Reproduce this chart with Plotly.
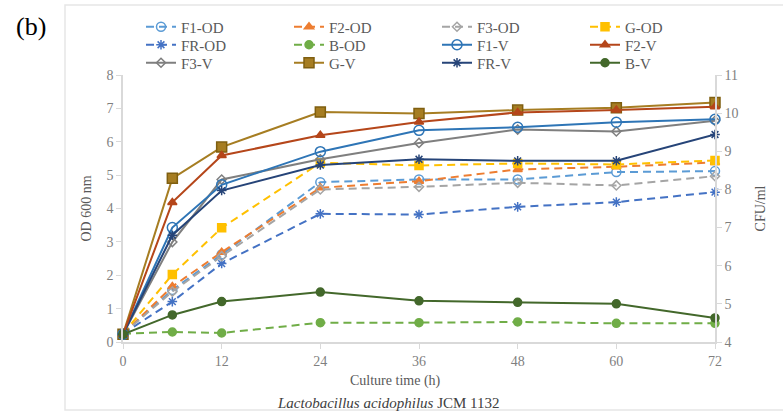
import plotly.graph_objects as go

time_h = [0, 6, 12, 24, 36, 48, 60, 72]

# OD 600 nm (left axis)
f1_od = [0.25, 1.56, 2.62, 4.79, 4.87, 4.87, 5.09, 5.12]
f2_od = [0.25, 1.66, 2.69, 4.62, 4.82, 5.17, 5.25, 5.38]
f3_od = [0.25, 1.51, 2.57, 4.57, 4.65, 4.77, 4.69, 4.97]
g_od = [0.25, 2.02, 3.42, 5.37, 5.29, 5.35, 5.32, 5.44]
fr_od = [0.25, 1.21, 2.35, 3.84, 3.82, 4.05, 4.19, 4.49]
b_od = [0.25, 0.30, 0.27, 0.58, 0.58, 0.60, 0.56, 0.56]

# CFU/ml (right axis)
f1_v = [4.2, 7.00, 8.12, 8.99, 9.55, 9.63, 9.76, 9.84]
f2_v = [4.2, 7.66, 8.89, 9.42, 9.77, 10.02, 10.08, 10.17]
f3_v = [4.2, 6.62, 8.26, 8.79, 9.22, 9.57, 9.52, 9.80]
g_v = [4.2, 8.29, 9.11, 10.03, 9.99, 10.08, 10.14, 10.28]
fr_v = [4.2, 6.80, 7.97, 8.64, 8.79, 8.75, 8.75, 9.44]
b_v = [4.2, 4.71, 5.06, 5.31, 5.08, 5.04, 5.00, 4.63]

x_ticks = [0, 12, 24, 36, 48, 60, 72]

FONT = "Liberation Serif, Times New Roman, serif"
W, H = 783, 414
L, R, T, B = 123, 715, 75, 342
DASH = "8px,5px"


def px(x):
    return (x - L) / (R - L)


def py(y):
    return (B - y) / (B - T)


fig = go.Figure()

# legend grid: (column, row) in pixels
cols = [141, 289, 437, 585]
rows = [27, 45, 63]
legend_cfg = {}


def add(name, y, color, symbol, size, dash, axis, col, row, mline=None):
    idx = len(legend_cfg) + 1
    key = "legend" if idx == 1 else f"legend{idx}"
    legend_cfg[key] = dict(
        x=px(cols[col]), y=py(rows[row]), xanchor="left", yanchor="middle",
        orientation="v", bgcolor="rgba(0,0,0,0)", borderwidth=0,
        font=dict(family=FONT, size=15, color="#595959"),
    )
    fig.add_trace(go.Scatter(
        x=time_h, y=y, name=name, mode="lines+markers",
        line=dict(color=color, width=2, dash=dash),
        marker=dict(symbol=symbol, size=size, color=color,
                    line=dict(color=mline or color, width=1.5)),
        yaxis=axis, legend=key, cliponaxis=False,
    ))


# OD series first so the V lines are drawn on top
add("F1-OD", f1_od, "#5B9BD5", "circle-open", 9, DASH, "y", 0, 0)
add("FR-OD", fr_od, "#4472C4", "asterisk-open", 8, DASH, "y", 0, 1)
add("F2-OD", f2_od, "#ED7D31", "triangle-up", 8, DASH, "y", 1, 0)
add("B-OD", b_od, "#70AD47", "circle", 8, DASH, "y", 1, 1)
add("F3-OD", f3_od, "#A5A5A5", "diamond-open", 7, DASH, "y", 2, 0)
add("G-OD", g_od, "#FFC000", "square", 8, DASH, "y", 3, 0)
add("F3-V", f3_v, "#7F7F7F", "diamond-open", 7, "solid", "y2", 0, 2)
add("G-V", g_v, "#A67D22", "square", 10, "solid", "y2", 1, 2, mline="#7F5F10")
add("F1-V", f1_v, "#2E75B6", "circle-open", 10, "solid", "y2", 2, 1)
add("FR-V", fr_v, "#264478", "asterisk-open", 8, "solid", "y2", 2, 2)
add("F2-V", f2_v, "#B5461A", "triangle-up", 8, "solid", "y2", 3, 1)
add("B-V", b_v, "#43682B", "circle", 8, "solid", "y2", 3, 2)

fig.update_layout(**legend_cfg)

axis_line = "#D9D9D9"
tick_font = dict(family=FONT, size=14, color="#7F7F7F")
title_font = dict(family=FONT, size=14, color="#595959")

fig.update_layout(
    width=W, height=H,
    margin=dict(l=L, r=W - R, t=T, b=H - B, autoexpand=False),
    paper_bgcolor="white", plot_bgcolor="white",
    showlegend=True,
    xaxis=dict(
        range=[0, 72], tickvals=x_ticks, ticktext=[str(v) for v in x_ticks],
        showgrid=False, zeroline=False, showline=True, linecolor=axis_line,
        linewidth=1.5, ticks="outside", ticklen=5, tickcolor=axis_line,
        tickfont=tick_font,
    ),
    yaxis=dict(
        range=[0, 8], dtick=1, showgrid=False, zeroline=False, showline=True,
        linecolor=axis_line, linewidth=1.5, ticks="outside", ticklen=5,
        tickcolor=axis_line, tickfont=tick_font,
        title=dict(text="OD 600 nm", font=title_font, standoff=12),
    ),
    yaxis2=dict(
        range=[4, 11], dtick=1, overlaying="y", side="right", showgrid=False,
        zeroline=False, showline=True, linecolor=axis_line, linewidth=1.5,
        ticks="outside", ticklen=5, tickcolor=axis_line, tickfont=tick_font,
        title=dict(text="CFU/ml", font=title_font, standoff=18),
    ),
)

fig.add_annotation(
    text="Culture time (h)", xref="paper", yref="paper",
    x=px(395), y=py(381), xanchor="center", yanchor="middle", showarrow=False,
    font=dict(family=FONT, size=14, color="#595959"),
)
fig.add_annotation(
    text="<i>Lactobacillus acidophilus</i> JCM 1132", xref="paper", yref="paper",
    x=px(388), y=py(403), xanchor="center", yanchor="middle", showarrow=False,
    font=dict(family=FONT, size=15, color="#404040"),
)
fig.add_annotation(
    text="(b)", xref="paper", yref="paper",
    x=px(31), y=py(26), xanchor="center", yanchor="middle", showarrow=False,
    font=dict(family=FONT, size=26, color="black"),
)
fig.add_shape(
    type="rect", xref="paper", yref="paper",
    x0=px(65), y0=py(410), x1=px(790), y1=py(5),
    line=dict(color="#E6E6E6", width=1.5), layer="below",
)

fig.write_html("out.html")
